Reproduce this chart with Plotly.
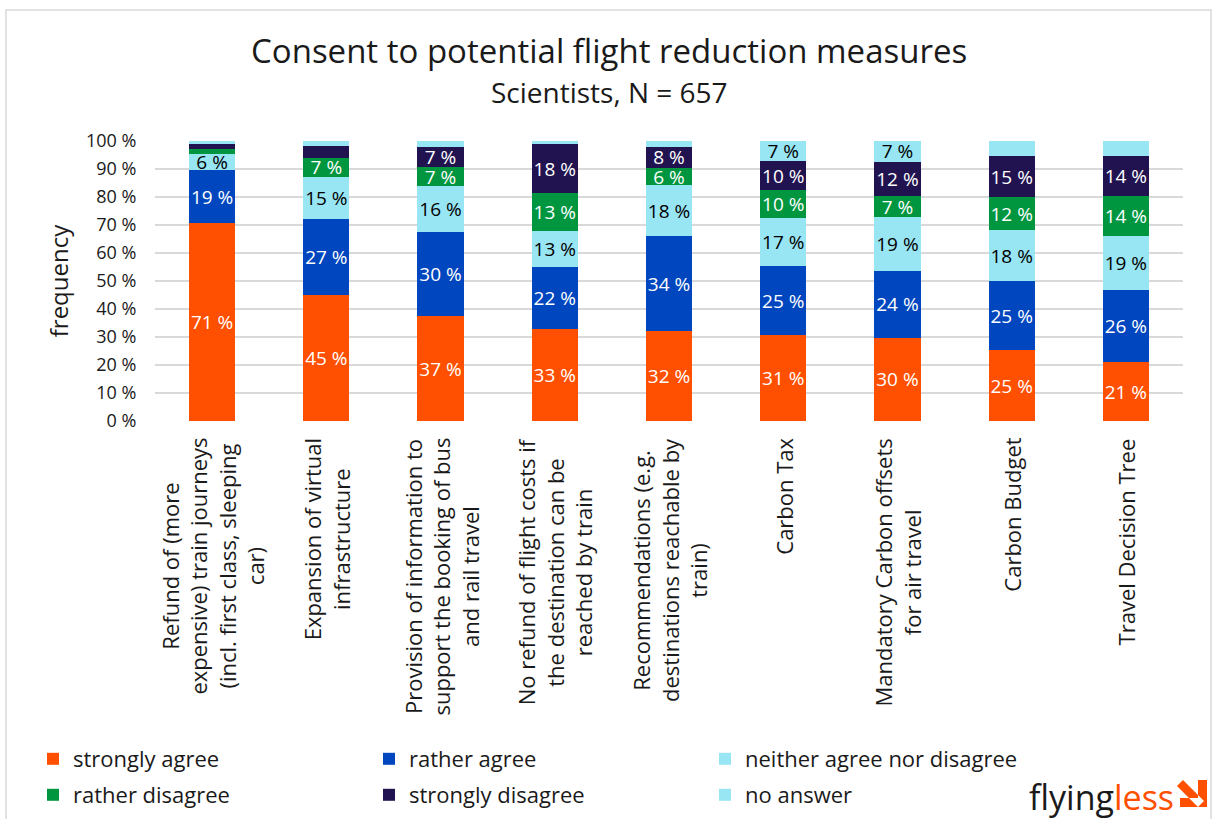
import plotly.graph_objects as go

categories = [
    "Refund of (more<br>expensive) train journeys<br>(incl. first class, sleeping<br>car)",
    "Expansion of virtual<br>infrastructure",
    "Provision of information to<br>support the booking of bus<br>and rail travel",
    "No refund of flight costs if<br>the destination can be<br>reached by train",
    "Recommendations (e.g.<br>destinations reachable by<br>train)",
    "Carbon Tax",
    "Mandatory Carbon offsets<br>for air travel",
    "Carbon Budget",
    "Travel Decision Tree",
]

strongly_agree = [70.8, 45.0, 37.4, 33.0, 32.0, 30.6, 29.8, 25.3, 21.0]
rather_agree = [18.7, 27.0, 30.2, 22.0, 33.9, 24.7, 23.8, 24.6, 25.8]
neither = [6.0, 15.3, 16.4, 13.0, 18.4, 17.2, 19.2, 18.4, 19.3]
rather_disagree = [1.7, 6.8, 6.6, 13.3, 6.0, 10.0, 7.4, 11.6, 14.3]
strongly_disagree = [1.8, 4.0, 7.2, 17.6, 7.7, 10.3, 12.4, 14.6, 14.3]
no_answer = [1.0, 1.9, 2.2, 1.1, 2.0, 7.2, 7.4, 5.5, 5.3]

series = [
    ("strongly agree", strongly_agree, "#FF4F00", "white", "legend"),
    ("rather agree", rather_agree, "#0046BE", "white", "legend"),
    ("neither agree nor disagree", neither, "#98E5F3", "black", "legend"),
    ("rather disagree", rather_disagree, "#00963F", "white", "legend2"),
    ("strongly disagree", strongly_disagree, "#211350", "white", "legend2"),
    ("no answer", no_answer, "#98E5F3", "black", "legend2"),
]

LABEL_MIN = 5.95
FONT = "Open Sans"
TXT = "#1a1a1a"
LOGO_ORANGE = "#FF5000"

W, H = 1212, 819
ML, MR, MT, MB = 155, 29, 141, 398
pw = W - ML - MR
ph = H - MT - MB


def px(pix):
    return (pix - ML) / pw


def py(pix):
    return (H - MB - pix) / ph


fig = go.Figure()
xs = list(range(len(categories)))
for name, vals, color, tcolor, leg in series:
    texts = [f"{round(v)} %" if v >= LABEL_MIN else "" for v in vals]
    fig.add_trace(go.Bar(
        name=name, x=xs, y=vals, marker=dict(color=color, line=dict(width=0)),
        text=texts, textposition="inside", insidetextanchor="middle",
        textangle=0, textfont=dict(color=tcolor, size=19, family=FONT),
        hoverinfo="skip", legend=leg,
    ))

anns = []
for i, cat in enumerate(categories):
    anns.append(dict(
        x=i, y=py(436), xref="x", yref="paper", text=cat, textangle=-90,
        showarrow=False, xanchor="center", yanchor="top", align="center",
        font=dict(size=22, family=FONT, color=TXT),
    ))

anns.append(dict(x=px(609), y=py(50), xref="paper", yref="paper",
                 text="Consent to potential flight reduction measures",
                 showarrow=False, xanchor="center", yanchor="middle",
                 font=dict(size=33, family=FONT, color=TXT)))
anns.append(dict(x=px(609), y=py(92), xref="paper", yref="paper",
                 text="Scientists, N = 657",
                 showarrow=False, xanchor="center", yanchor="middle",
                 font=dict(size=28, family=FONT, color=TXT)))
anns.append(dict(x=px(1176), y=py(797), xref="paper", yref="paper",
                 text="<span style='color:#1a1a1a'>flying</span><span style='color:#FF5000'>less</span>",
                 showarrow=False, xanchor="right", yanchor="middle",
                 font=dict(size=34, family=FONT)))

legend_common = dict(
    orientation="h", xanchor="left", yanchor="middle",
    entrywidth=291, entrywidthmode="pixels", traceorder="normal",
    font=dict(size=22, family=FONT, color=TXT), itemwidth=30,
    bgcolor="rgba(0,0,0,0)",
)

fig.update_layout(
    width=W, height=H,
    margin=dict(l=ML, r=MR, t=MT, b=MB, autoexpand=False),
    paper_bgcolor="white", plot_bgcolor="white",
    barmode="stack", bargap=0.595,
    uniformtext=dict(minsize=19, mode="show"),
    font=dict(family=FONT, color=TXT),
    showlegend=True,
    legend=dict(x=px(33), y=py(759), **legend_common),
    legend2=dict(x=px(33), y=py(795), **legend_common),
    xaxis=dict(range=[-0.5, len(categories) - 0.5], showticklabels=False,
               showgrid=False, zeroline=False, showline=False, fixedrange=True),
    yaxis=dict(range=[0, 100], dtick=10, ticksuffix=" %", showgrid=True,
               gridcolor="#D9D9D9", gridwidth=2, zeroline=False, showline=False,
               ticks="outside", ticklen=14, tickcolor="rgba(0,0,0,0)",
               tickfont=dict(size=18, family=FONT, color=TXT),
               title=dict(text="frequency", font=dict(size=24, family=FONT, color=TXT), standoff=10)),
    annotations=anns,
)

# outer frame
fig.add_shape(type="rect", xref="paper", yref="paper",
              x0=px(6), x1=px(1211), y0=py(830), y1=py(10),
              line=dict(color="#D9D9D9", width=1.5), fillcolor="rgba(0,0,0,0)", layer="below")

# logo arrow (decorative)
head = [(1207, 780), (1207, 807), (1180, 807), (1180, 798), (1198, 798), (1198, 780)]
stem = [(1177, 786), (1183, 780), (1204, 801), (1198, 807)]


def poly(pts):
    return "M " + " L ".join(f"{px(a):.5f},{py(b):.5f}" for a, b in pts) + " Z"


fig.add_shape(type="path", xref="paper", yref="paper", path=poly(head) + " " + poly(stem),
              fillcolor=LOGO_ORANGE, line=dict(width=0))

fig.write_html("out.html", config={"displayModeBar": False},
               post_script="document.body.style.margin='0';document.body.style.overflow='hidden';")
